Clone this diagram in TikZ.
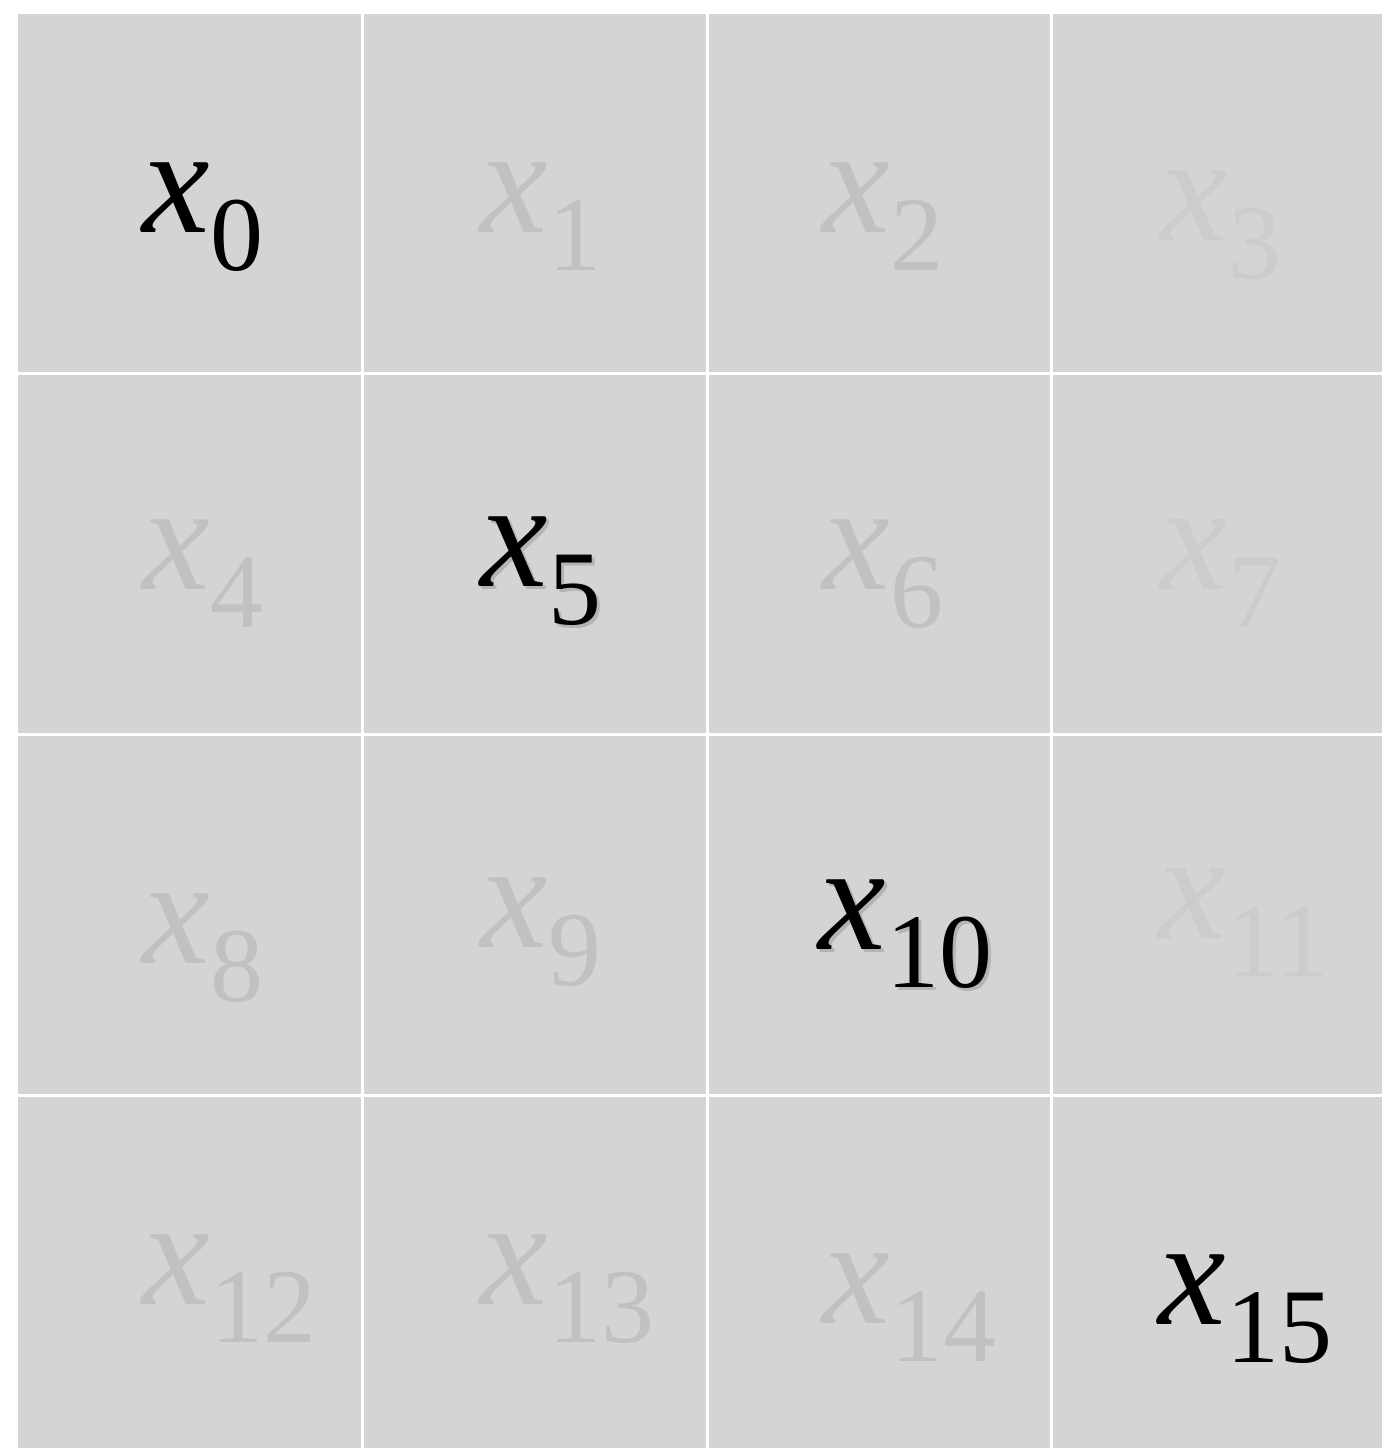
\documentclass[tikz,border=0pt]{standalone}
\usepackage{fontspec}
\setmainfont{Liberation Serif}
\usetikzlibrary{positioning}

\definecolor{cellgray}{HTML}{D4D4D4}
\definecolor{midgray}{HTML}{C1C1C1}
\definecolor{faintgray}{HTML}{CCCCCC}
\definecolor{shadowgray}{HTML}{B4B4B4}

% x with a lowered subscript
\newcommand{\xsub}[1]{\textit{x}\raisebox{-9.5pt}{\fontsize{26.5}{28}\selectfont #1}}

\begin{document}
\begin{tikzpicture}[
    x=0.25pt, y=-0.25pt,
    gridline/.style={white, line width=0.75pt},
    lab/.style={anchor=base west, inner sep=0pt, font=\fontsize{38}{40}\selectfont}
]
    \useasboundingbox (0,0) rectangle (1382,1448);
    \fill[cellgray] (18,14) rectangle (1382,1448);

    \foreach \xa in {362,707,1051}
        \draw[gridline] (\xa,14) -- (\xa,1448);
    \foreach \ya in {373,734,1095}
        \draw[gridline] (18,\ya) -- (1382,\ya);

    % faint shadows behind two of the diagonal labels
    \node[lab, text=shadowgray] (s5) at (483,589) {\xsub{5}};
    \node[lab, text=shadowgray] (s10) at (821,952) {\xsub{10}};

    \foreach \i/\xa/\ya/\col in {0/142/232/black, 1/480/232/midgray, 2/822/232/midgray, 3/1160/240/faintgray,
        4/142/589/midgray, 5/480/586/black, 6/822/589/midgray, 7/1160/589/faintgray,
        8/142/963/midgray, 9/480/947/midgray, 10/818/949/black, 11/1158/938/faintgray,
        12/142/1304/midgray, 13/480/1304/midgray, 14/822/1323/midgray, 15/1158/1324/black}
        \node[lab, text=\col] (l\i) at (\xa,\ya) {\xsub{\i}};
\end{tikzpicture}
\end{document}
